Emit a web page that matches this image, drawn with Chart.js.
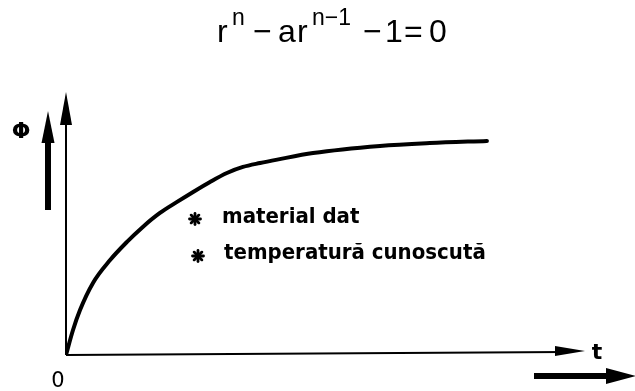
<!DOCTYPE html>
<html>
<head>
<meta charset="utf-8">
<script src="https://cdn.jsdelivr.net/npm/chart.js@4.4.1/dist/chart.umd.min.js"></script>
<style>
  html, body { margin: 0; padding: 0; background: #fff; }
  #wrap { width: 635px; height: 391px; position: relative; }
</style>
</head>
<body>
<div id="wrap"><canvas id="myChart"></canvas></div>
<script>
// curve data: flux phi rising with time t, saturating
const tValues   = [0, 1.35, 2.7, 5.2, 8.5, 11.75, 14.8, 18.1, 21.4, 24.5, 27.75, 31.0, 34.1, 37.4, 40.7, 47.6, 60.5, 70.1, 81.1];
const phiValues = [0, 9.5, 17.1, 27.4, 36.1, 43.0, 48.7, 54.0, 58.2, 62.0, 65.8, 69.2, 71.5, 73.0, 74.3, 76.8, 79.5, 80.6, 81.4];
const notes = ['material dat', 'temperatură cunoscută'];
const yLabel = 'Φ';
const xLabel = 't';
const originLabel = '0';

const points = tValues.map((t, i) => ({ x: t, y: phiValues[i] }));

// filled arrow head pointing from (x0,y0) to tip (x1,y1)
function arrowHead(ctx, x0, y0, x1, y1, len, half) {
  const a = Math.atan2(y1 - y0, x1 - x0);
  ctx.beginPath();
  ctx.moveTo(x1, y1);
  ctx.lineTo(x1 - len * Math.cos(a) + half * Math.sin(a), y1 - len * Math.sin(a) - half * Math.cos(a));
  ctx.lineTo(x1 - len * Math.cos(a) - half * Math.sin(a), y1 - len * Math.sin(a) + half * Math.cos(a));
  ctx.closePath();
  ctx.fill();
}

function star(ctx, cx, cy, r) {
  ctx.save();
  ctx.lineWidth = 2.8;
  ctx.lineCap = 'round';
  for (let k = 0; k < 4; k++) {
    const a = k * Math.PI / 4;
    ctx.beginPath();
    ctx.moveTo(cx - r * Math.cos(a), cy - r * Math.sin(a));
    ctx.lineTo(cx + r * Math.cos(a), cy + r * Math.sin(a));
    ctx.stroke();
  }
  ctx.restore();
}

const sketch = {
  id: 'sketch',
  beforeDatasetsDraw(chart) {
    const ctx = chart.ctx;
    const xs = chart.scales.x, ys = chart.scales.y;
    const ox = xs.getPixelForValue(0), oy = ys.getPixelForValue(0);
    const xe = xs.getPixelForValue(xs.max), ye = ys.getPixelForValue(ys.max);
    ctx.save();
    ctx.strokeStyle = '#000';
    ctx.fillStyle = '#000';
    ctx.lineWidth = 2;
    // axes
    ctx.beginPath();
    ctx.moveTo(ox, oy); ctx.lineTo(xe - 20, oy - 3);
    ctx.moveTo(ox, oy); ctx.lineTo(ox, ye + 20);
    ctx.stroke();
    arrowHead(ctx, ox, oy - 3, xe, oy - 4, 30, 5);
    arrowHead(ctx, ox, oy, ox, ye, 33, 6);
    ctx.restore();
  },
  afterDraw(chart) {
    const ctx = chart.ctx;
    const xs = chart.scales.x, ys = chart.scales.y;
    const ox = xs.getPixelForValue(0), oy = ys.getPixelForValue(0);
    const xe = xs.getPixelForValue(xs.max);
    ctx.save();
    ctx.fillStyle = '#000';
    ctx.strokeStyle = '#000';

    // big phi arrow
    ctx.lineWidth = 6;
    ctx.beginPath();
    ctx.moveTo(ox - 18, 210); ctx.lineTo(ox - 18, 140);
    ctx.stroke();
    arrowHead(ctx, ox - 18, 210, ox - 18, 111, 32, 6.5);
    ctx.font = 'bold 22px "DejaVu Sans"';
    ctx.textAlign = 'center';
    ctx.textBaseline = 'middle';
    ctx.fillText(yLabel, 21, 132);

    // big t arrow
    ctx.beginPath();
    ctx.moveTo(534, 376); ctx.lineTo(612, 376);
    ctx.stroke();
    arrowHead(ctx, 534, 376, 636, 376, 30, 8);
    ctx.font = 'bold 22px "DejaVu Sans"';
    ctx.fillText(xLabel, xe + 12, oy - 2);

    ctx.font = '21px "DejaVu Sans"';
    ctx.fillText(originLabel, ox - 8, oy + 27);

    // notes
    ctx.textAlign = 'left';
    ctx.textBaseline = 'alphabetic';
    ctx.font = 'bold 22px "DejaVu Sans Condensed"';
    star(ctx, 195, 219, 5.5);
    ctx.fillText(notes[0], 222, 223);
    star(ctx, 198, 256, 5.5);
    ctx.fillText(notes[1], 224, 259);

    // characteristic equation r^n - a r^(n-1) - 1 = 0
    const big = '32px "Liberation Sans"', small = '23px "Liberation Sans"';
    const parts = [
      ['r', big, 217, 42], ['n', small, 232, 25], ['−', big, 253, 42], ['a', big, 278, 42],
      ['r', big, 297, 42], ['n−1', small, 312, 25], ['−', big, 363, 42], ['1', big, 385, 42],
      ['=', big, 404, 42], ['0', big, 429, 42]
    ];
    for (const [s, f, x, y] of parts) {
      ctx.font = f;
      ctx.fillText(s, x, y);
    }
    ctx.restore();
  }
};

new Chart(document.getElementById('myChart'), {
  type: 'line',
  data: {
    datasets: [{
      data: points,
      borderColor: '#000',
      borderWidth: 4,
      borderCapStyle: 'round',
      pointRadius: 0,
      cubicInterpolationMode: 'monotone',
      fill: false
    }]
  },
  options: {
    responsive: true,
    maintainAspectRatio: false,
    animation: false,
    layout: { padding: { left: 66, right: 50, top: 92, bottom: 36 } },
    plugins: { legend: { display: false }, tooltip: { enabled: false } },
    scales: {
      x: { type: 'linear', min: 0, max: 100, display: false },
      y: { min: 0, max: 100, display: false }
    }
  },
  plugins: [sketch]
});
</script>
</body>
</html>
